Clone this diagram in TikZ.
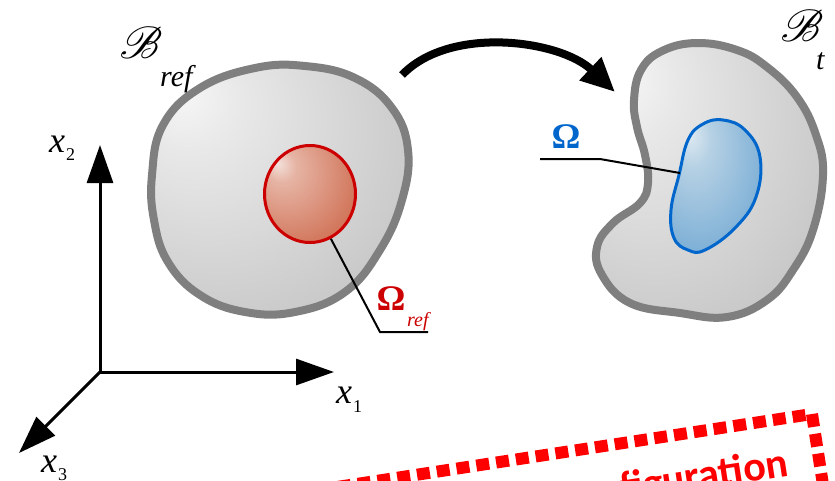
\documentclass[tikz,border=0pt]{standalone}
\usepackage{fontspec}
\setmainfont{Liberation Serif}
\newfontfamily\carlitofont{Carlito}
\usepackage{mathrsfs}
\usepackage{graphicx}
\usetikzlibrary{arrows.meta,shapes.geometric}
\definecolor{gc0}{HTML}{F7F7F7}
\definecolor{gc1}{HTML}{E8E8E8}
\definecolor{gc2}{HTML}{C6C6C6}
\definecolor{gc3}{HTML}{A8A8A8}
\definecolor{bordergray}{HTML}{7F7F7F}
\definecolor{rc0}{HTML}{F3E2DC}
\definecolor{rc1}{HTML}{E6B4A4}
\definecolor{rc2}{HTML}{CF6E52}
\definecolor{rc3}{HTML}{B8472C}
\definecolor{bc0}{HTML}{E0EBF2}
\definecolor{bc1}{HTML}{B6D1E4}
\definecolor{bc2}{HTML}{71A8D3}
\definecolor{bc3}{HTML}{4A8FC7}
\definecolor{redline}{HTML}{CC0000}
\definecolor{blueline}{HTML}{0066CC}
\definecolor{boxred}{HTML}{FF0000}
\pgfdeclareradialshading{grayshade}{\pgfpoint{-20bp}{20bp}}{color(0bp)=(gc0); color(10bp)=(gc1); color(40bp)=(gc2); color(75bp)=(gc3)}
\pgfdeclareradialshading{redshade}{\pgfpoint{-18bp}{16bp}}{color(0bp)=(rc0); color(8bp)=(rc1); color(38bp)=(rc2); color(65bp)=(rc3)}
\pgfdeclareradialshading{blueshade}{\pgfpoint{-15bp}{20bp}}{color(0bp)=(bc0); color(10bp)=(bc1); color(40bp)=(bc2); color(70bp)=(bc3)}
\tikzset{
  blob/.style={shading=grayshade, draw=bordergray, line width=8pt},
  axisarrow/.style={line width=3pt, -{Triangle[length=38pt,width=26pt]}},
  bigarrow/.style={line width=8pt, -{Triangle[length=34pt,width=30pt]}},
  leader/.style={line width=2pt, black},
  axlbl/.style={inner sep=0pt, font=\fontsize{36}{36}\selectfont},
  scriptlbl/.style={inner sep=0pt},
  sublbl/.style={inner sep=0pt, font=\fontsize{30}{30}\selectfont\itshape},
  omegalbl/.style={inner sep=0pt, font=\fontsize{36}{36}\selectfont\bfseries},
  dashbox/.style={draw=boxred, line width=12pt, dash pattern=on 13pt off 7pt},
  boxtext/.style={inner sep=0pt, text=boxred, font=\fontsize{42}{42}\selectfont\carlitofont\bfseries},
}
\newcommand{\subsz}{\fontsize{18}{18}\selectfont}
\newcommand{\bigB}{\scalebox{4.5}{$\boldsymbol{\mathscr{B}}$}}
\usepackage{amsmath}
\begin{document}
\begin{tikzpicture}[x=1pt,y=-1pt]
\useasboundingbox (0,0) rectangle (835,480);
\clip (0,0) rectangle (835,480);
% reference body
\shadedraw[blob] plot[smooth cycle, tension=0.7] coordinates {(152,175) (163,125) (200,88) (255,68) (305,66) (355,78) (392,108) (408,150) (402,200) (380,250) (345,292) (295,312) (245,312) (200,295) (168,262) (154,220)};
\node[ellipse, minimum width=91pt, minimum height=97pt, shading=redshade, draw=redline, line width=3pt] (oref) at (310,194) {};
% current body
\shadedraw[blob] plot[smooth cycle, tension=0.7] coordinates {(634,100) (641,70) (662,51) (697,43) (737,50) (767,67) (797,97) (816,135) (823,175) (813,230) (793,270) (767,300) (727,317) (680,313) (630,303) (602,275) (597,247) (613,223) (640,203) (648,183) (645,155) (637,127)};
\shadedraw[shading=blueshade, draw=blueline, line width=3pt] plot[smooth cycle, tension=0.7] coordinates {(723,120) (745,130) (760,157) (756,197) (735,228) (705,250) (688,250) (674,238) (671,210) (679,175) (688,140) (703,124)};
% leaders
\coordinate (rk) at (380,332);
\coordinate (re) at (428,332);
\draw[leader] (oref.295) -- (rk) -- (re);
\coordinate (bs) at (680,173);
\coordinate (bk) at (600,159);
\coordinate (be) at (540,159);
\draw[leader] (bs) -- (bk) -- (be);
% labels
\node[omegalbl, text=redline, anchor=base] (omref) at (391,310) {Ω};
\node[sublbl, text=redline, font=\fontsize{20}{20}\selectfont\itshape, anchor=base west] (omrefsub) at (407,326) {ref};
\node[omegalbl, text=blueline, anchor=base] (om) at (566,148) {Ω};
\node[scriptlbl, anchor=center] (bref) at (141,43) {\bigB};
\node[sublbl, anchor=base west] (brefsub) at (160,86) {ref};
\node[scriptlbl, anchor=center] (bt) at (802,26) {\bigB};
\node[sublbl, anchor=base west] (btsub) at (816,69) {t};
% big arrow
\coordinate (ca) at (402,75);
\coordinate (cb) at (615,92);
\draw[bigarrow] (ca) .. controls (450,25) and (560,40) .. (cb);
% axes
\coordinate (O) at (100,372);
\coordinate (X1) at (334,372);
\coordinate (X2) at (100,145);
\coordinate (X3) at (19,453);
\draw[axisarrow] (O) -- (X1);
\draw[axisarrow] (O) -- (X2);
\draw[axisarrow] (O) -- (X3);
\node[axlbl, anchor=base west] (lx2) at (49,152) {\textit{x}\kern1pt\raisebox{-8pt}{\subsz 2}};
\node[axlbl, anchor=base west] (lx1) at (336,403) {\textit{x}\kern1pt\raisebox{-9pt}{\subsz 1}};
\node[axlbl, anchor=base west] (lx3) at (41,472) {\textit{x}\kern1pt\raisebox{-8pt}{\subsz 3}};
% red dashed box
\coordinate (btr) at (812,414);
\coordinate (bbr) at (835,562);
\coordinate (bbl) at (321,641);
\coordinate (btl) at (298,493);
\draw[dashbox] (btr) -- (bbr) -- (bbl) -- (btl) -- cycle;
\node[boxtext, rotate=8.7, anchor=base east] (cfg) at (790,476) {configuration};
\end{tikzpicture}
\end{document}
